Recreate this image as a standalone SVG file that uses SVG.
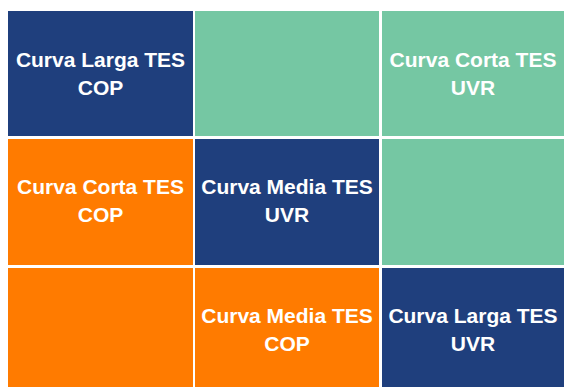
<svg xmlns="http://www.w3.org/2000/svg" width="564" height="387" viewBox="0 0 564 387">
<style>
.blue{fill:#1F3F7D}
.green{fill:#75C7A3}
.orange{fill:#FF7B00}
text{font-family:"Liberation Sans",Arial,sans-serif;font-weight:bold;font-size:21px;fill:#FFFFFF;text-anchor:middle}
</style>
<rect width="564" height="387" fill="#FFFFFF"/>
<g id="r1c1"><rect class="blue" x="8" y="11" width="185" height="125"/><text x="100.5" y="67">Curva Larga TES</text><text x="100.5" y="95">COP</text></g>
<g id="r1c2"><rect class="green" x="195" y="11" width="184" height="125"/></g>
<g id="r1c3"><rect class="green" x="382" y="11" width="182" height="125"/><text x="473" y="67">Curva Corta TES</text><text x="473" y="95">UVR</text></g>
<g id="r2c1"><rect class="orange" x="8" y="139" width="185" height="126"/><text x="100.5" y="194">Curva Corta TES</text><text x="100.5" y="222">COP</text></g>
<g id="r2c2"><rect class="blue" x="195" y="139" width="184" height="126"/><text x="287" y="194">Curva Media TES</text><text x="287" y="222">UVR</text></g>
<g id="r2c3"><rect class="green" x="382" y="139" width="182" height="126"/></g>
<g id="r3c1"><rect class="orange" x="8" y="268" width="185" height="119"/></g>
<g id="r3c2"><rect class="orange" x="195" y="268" width="184" height="119"/><text x="287" y="323">Curva Media TES</text><text x="287" y="351">COP</text></g>
<g id="r3c3"><rect class="blue" x="382" y="268" width="182" height="119"/><text x="473" y="323">Curva Larga TES</text><text x="473" y="351">UVR</text></g>
<g id="connectors"/>
</svg>
